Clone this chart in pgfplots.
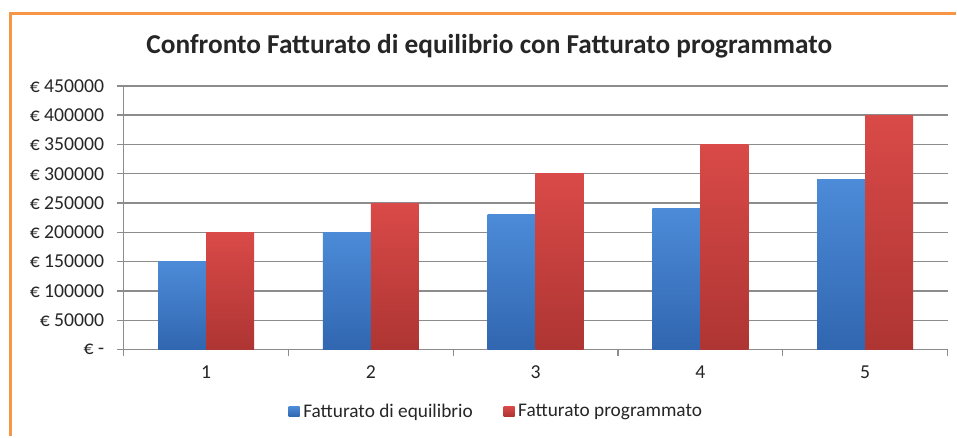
\documentclass[border=0pt]{standalone}
\usepackage{pgfplots}
\pgfplotsset{compat=1.18}
\usepackage{fontspec}
\setmainfont{Carlito}
\definecolor{borderorange}{HTML}{F79646}
\definecolor{gridgray}{HTML}{8C8C8C}
\definecolor{blueT}{HTML}{4C8BD8}
\definecolor{blueB}{HTML}{3166B0}
\definecolor{redT}{HTML}{D94A48}
\definecolor{redB}{HTML}{AE3533}
\definecolor{txt}{HTML}{262626}
\begin{document}
\begin{tikzpicture}
\fill[white] (0,0) rectangle (717.75pt,327.75pt);
\draw[borderorange, line width=2.25pt] (8.25pt,0) -- (8.25pt,317.25pt) -- (717.75pt,317.25pt);
\node[text=txt, font=\bfseries\fontsize{20.5}{24}\selectfont] at (367.5pt,293.25pt) {Confronto Fatturato di equilibrio con Fatturato programmato};
\begin{axis}[
  at={(93pt,65.25pt)}, anchor=south west,
  scale only axis, width=618.75pt, height=198pt,
  xmin=0.5, xmax=5.5, ymin=0, ymax=450000,
  axis x line*=bottom, axis y line*=left,
  axis line style={draw=gridgray, line width=1pt},
  ytick={0,50000,...,450000},
  yticklabels={€ -, € 50000, € 100000, € 150000, € 200000, € 250000, € 300000, € 350000, € 400000, € 450000},
  ymajorgrids, grid style={draw=gridgray, line width=1pt},
  xtick={0.5,1.5,...,5.5}, xticklabels={},
  extra x ticks={1,2,3,4,5}, extra x tick labels={1,2,3,4,5},
  extra x tick style={major tick length=0pt, grid=none},
  tick align=outside, major tick length=5.25pt,
  tick style={draw=gridgray, line width=1pt},
  ticklabel style={font=\fontsize{14.8}{17}\selectfont, text=txt},
  yticklabel style={xshift=-6pt},
  xticklabel style={yshift=-9pt},
  scaled y ticks=false,
  ybar, bar width=36pt,
  bluebar/.style={draw=none, forget plot, bar shift=-18pt, top color=blueT, bottom color=blueB},
  redbar/.style={draw=none, forget plot, bar shift=18pt, top color=redT, bottom color=redB},
  legend style={at={(0.451,-0.235)}, anchor=center, draw=none, legend columns=2,
    font=\fontsize{14.5}{16}\selectfont, text=txt,
    /tikz/every even column/.append style={column sep=19pt}},
  legend image code/.code={\pgfpathrectanglecorners{\pgfpoint{0pt}{-3.75pt}}{\pgfpoint{11pt}{3.75pt}}\pgfusepath{use as bounding box}\path[#1, draw=none] (2pt,-3.75pt) rectangle (10.25pt,3.75pt);},
]
\addplot[bluebar] coordinates {(1,150000)};
\addplot[bluebar] coordinates {(2,200000)};
\addplot[bluebar] coordinates {(3,230000)};
\addplot[bluebar] coordinates {(4,240000)};
\addplot[bluebar] coordinates {(5,290000)};
\addplot[redbar] coordinates {(1,200000)};
\addplot[redbar] coordinates {(2,250000)};
\addplot[redbar] coordinates {(3,300000)};
\addplot[redbar] coordinates {(4,350000)};
\addplot[redbar] coordinates {(5,400000)};
\addlegendimage{top color=blueT, bottom color=blueB}
\addlegendentry{Fatturato di equilibrio}
\addlegendimage{top color=redT, bottom color=redB}
\addlegendentry{Fatturato programmato}
\end{axis}
\end{tikzpicture}
\end{document}
